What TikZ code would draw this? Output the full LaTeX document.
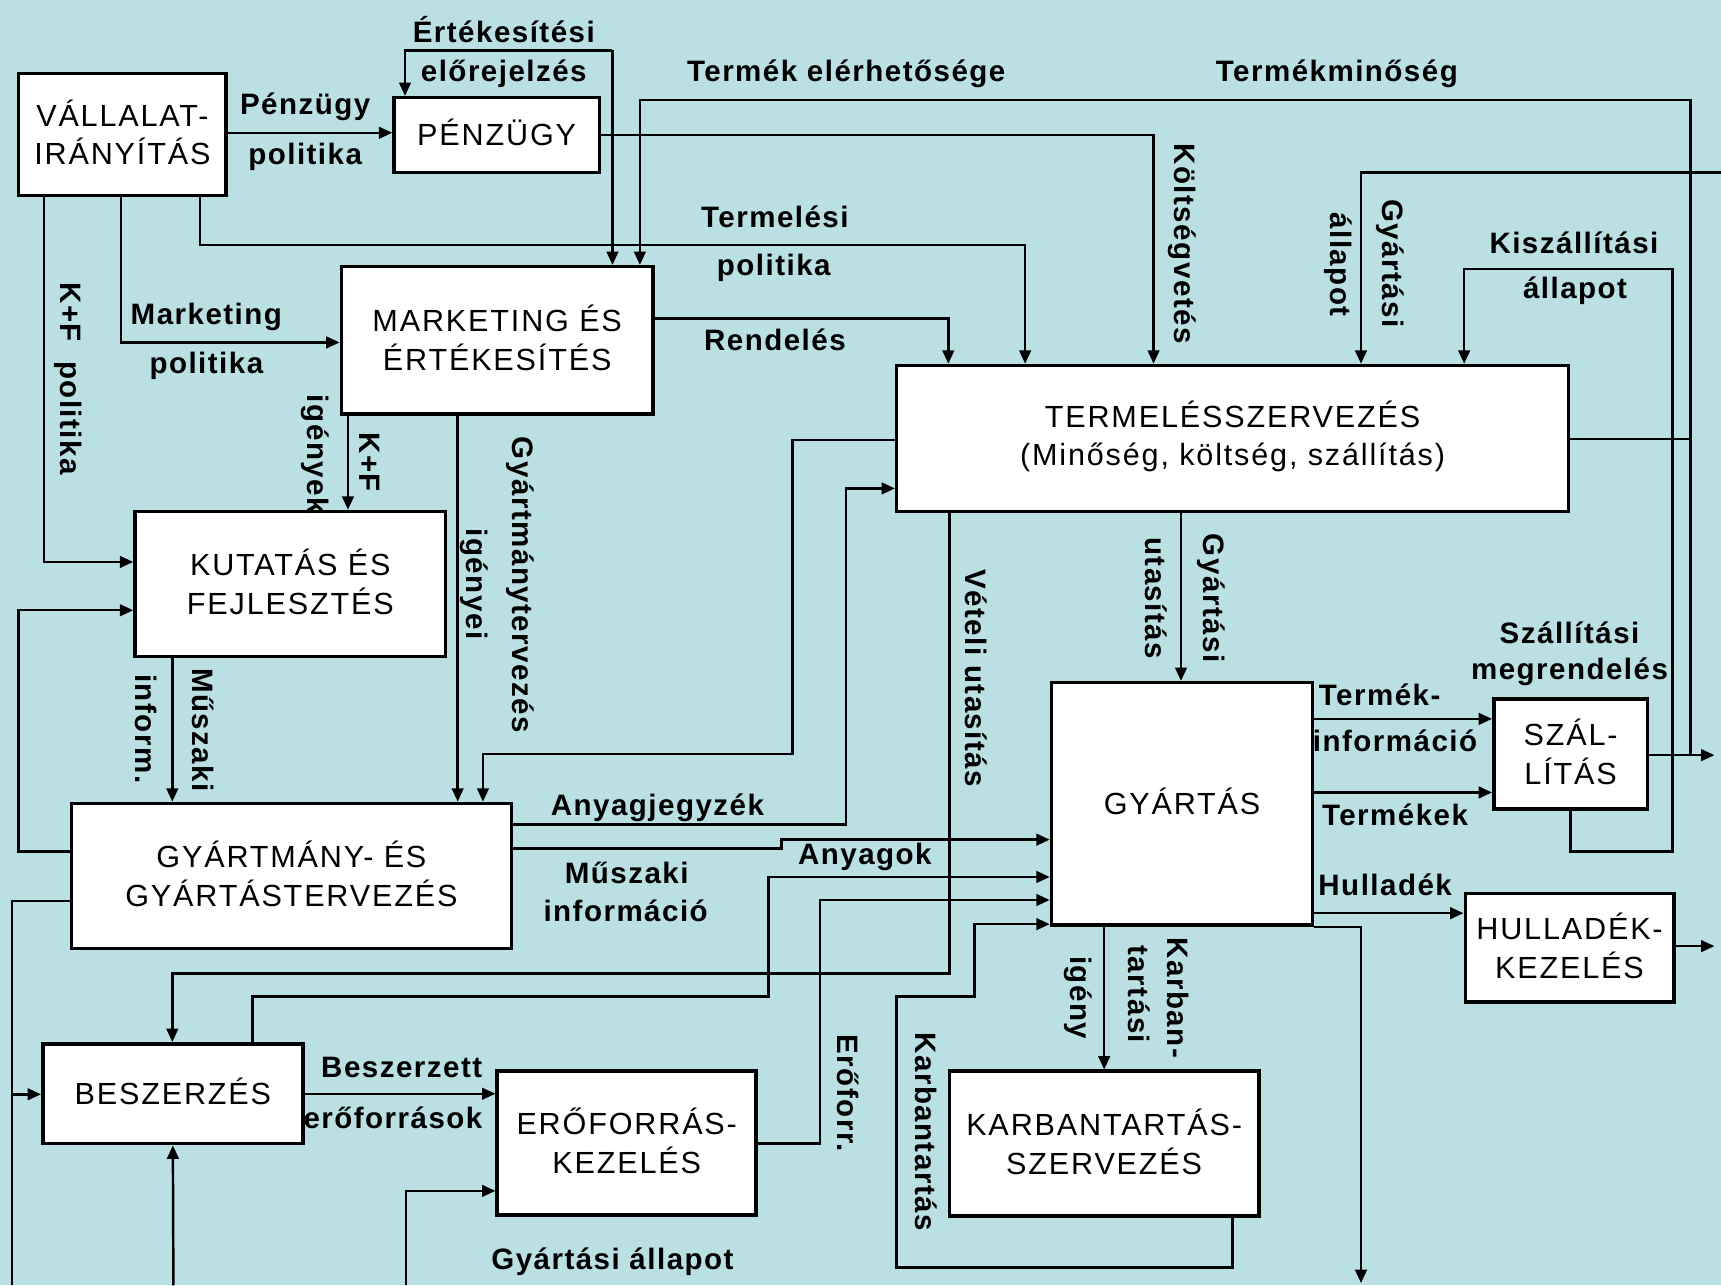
\documentclass[tikz,border=0pt]{standalone}
\usepackage{fontspec}
\setmainfont{Liberation Sans}
\newfontfamily\boxfont[LetterSpace=6]{Liberation Sans}
\newfontfamily\lblfont[LetterSpace=5]{Liberation Sans}
\usetikzlibrary{arrows.meta,fit}
\definecolor{bgteal}{RGB}{186,224,227}
\begin{document}
\begin{tikzpicture}[x=0.10976mm,y=-0.10976mm,
  blk/.style={draw,line width=1pt,fill=white,inner sep=0pt},
  btxt/.style={inner sep=0pt,align=center,yshift=0.6pt,
    font=\boxfont\fontsize{8.7}{11}\selectfont},
  lbl/.style={inner sep=0pt,font=\lblfont\bfseries\fontsize{8.4}{10}\selectfont},
  vlbl/.style={lbl,rotate=-90},
  flow/.style={line width=0.7pt,-{Triangle[length=3.8pt,width=3.3pt]}},
  wire/.style={line width=0.7pt}]

% background
\fill[bgteal] (0,0) rectangle (1568,1171);
\useasboundingbox (0,0) rectangle (1568,1171);

% blocks, each with its caption set in the middle
\node[blk,fit={(17,67)(206,178)},label={[btxt]center:{VÁLLALAT-\\IRÁNYÍTÁS}}] (vall) {};
\node[blk,fit={(359,89)(546,157)},label={[btxt]center:{PÉNZÜGY}}] (penz) {};
\node[blk,fit={(311,243)(595,377)},label={[btxt]center:{MARKETING ÉS\\ÉRTÉKESÍTÉS}}] (mark) {};
\node[blk,fit={(817,333)(1429,466)},label={[btxt]center:{TERMELÉSSZERVEZÉS\\(Minőség, költség, szállítás)}}] (term) {};
\node[blk,fit={(123,466)(406,598)},label={[btxt]center:{KUTATÁS ÉS\\FEJLESZTÉS}}] (kut) {};
\node[blk,fit={(65,732)(466,864)},label={[btxt]center:{GYÁRTMÁNY- ÉS\\GYÁRTÁSTERVEZÉS}}] (gyt) {};
\node[blk,fit={(958,622)(1196,843)},label={[btxt]center:{GYÁRTÁS}}] (gy) {};
\node[blk,fit={(1361,637)(1501,737)},label={[btxt]center:{SZÁL-\\LÍTÁS}}] (szal) {};
\node[blk,fit={(1335,814)(1525,913)},label={[btxt]center:{HULLADÉK-\\KEZELÉS}}] (hull) {};
\node[blk,fit={(39,951)(276,1042)},label={[btxt]center:{BESZERZÉS}}] (besz) {};
\node[blk,fit={(453,976)(689,1107)},label={[btxt]center:{ERŐFORRÁS-\\KEZELÉS}}] (ero) {};
\node[blk,fit={(865,976)(1147,1108)},label={[btxt]center:{KARBANTARTÁS-\\SZERVEZÉS}}] (karb) {};

% free ends at the picture edges
\coordinate (ek) at (558,46);
\coordinate (szalout) at (1562,688);
\coordinate (hullout) at (1562,862);
\coordinate (gyin) at (1568,157);
\coordinate (gyout) at (1240,1169);
\coordinate (leftout) at (11,1171);
\coordinate (bin1) at (158,1171);
\coordinate (bin2) at (370,1171);

% top connectors
\draw[flow] (vall.east |- 0,121) -- (penz.west |- 0,121);
\draw[flow] (ek) -| (369,0 |- penz.north);
\draw[flow] (ek) -- (558,0 |- mark.north);
\draw[flow] (szal.east |- szalout) -- (szalout);
\draw[flow] (szal.east |- szalout) -| (1540,91) -| (583,0 |- mark.north);
\draw[wire] (term.east |- 0,400) -- (1540,400);
\draw[flow] (szal.south) |- (1524,776) |- (1334,245) -- (1334,0 |- term.north);
\draw[flow] (gyin) -| (1240,0 |- term.north);
\draw[flow] (penz.east |- 0,123) -| (1051,0 |- term.north);
\draw[flow] (vall.south -| 182,0) |- (934,223) -- (934,0 |- term.north);
\draw[flow] (mark.east |- 0,290) -| (864,0 |- term.north);
\draw[flow] (vall.south -| 110,0) |- (mark.west |- 0,312);
\draw[flow] (vall.south -| 40,0) |- (kut.west |- 0,512);

% middle connectors
\draw[flow] (mark.south -| 317,0) -- (kut.north -| 317,0);
\draw[flow] (mark.south -| 417,0) -- (gyt.north -| 417,0);
\draw[flow] (kut.south -| 157,0) -- (gyt.north -| 157,0);
\draw[flow] (term.west |- 0,401) -| (722,687) -| (440,0 |- gyt.north);
\draw[flow] (gyt.east |- 0,751) -| (771,445) -- (term.west |- 0,445);
\draw[flow] (gyt.east |- 0,773) -| (712,765) -- (gy.west |- 0,765);
\draw[flow] (besz.north -| 230,0) |- (700,908) |- (gy.west |- 0,799);
\draw[flow] (ero.east |- 0,1042) -| (747,820) -- (gy.west |- 0,820);
\draw[flow] (karb.south -| 1123,0) |- (817,1155) |- (888,908) |- (gy.west |- 0,842);
\draw[flow] (term.south -| 865,0) |- (157,887) -- (besz.north -| 157,0);
\draw[flow] (term.south -| 1076,0) -- (gy.north -| 1076,0);
\draw[flow] (gy.south -| 1006,0) -- (karb.north -| 1006,0);

% outputs of production
\draw[flow] (gy.east |- 0,655) -- (szal.west |- 0,655);
\draw[flow] (gy.east |- 0,722) -- (szal.west |- 0,722);
\draw[flow] (gy.east |- 0,832) -- (hull.west |- 0,832);
\draw[flow] (hull.east |- hullout) -- (hullout);
\draw[flow] (gy.south east) -| (gyout);

% left and bottom connectors
\draw[flow] (gyt.west |- 0,776) -| (17,556) -- (kut.west |- 0,556);
\draw[wire] (gyt.west |- 0,821) -| (leftout);
\draw[flow] (leftout |- 0,997) -- (besz.west |- 0,997);
\draw[flow] (bin1) -- (besz.south);
\draw[flow] (besz.east) -- (ero.west |- besz.east);
\draw[flow] (bin2) |- (ero.west |- 0,1085);

% horizontal labels
\node[lbl] at (459,27) {Értékesítési};
\node[lbl] at (459,67) {előrejelzés};
\node[lbl] at (278,97) {Pénzügy};
\node[lbl] at (278,143) {politika};
\node[lbl] at (771,67) {Termék elérhetősége};
\node[lbl] at (1218,67) {Termékminőség};
\node[lbl] at (706,198) {Termelési};
\node[lbl] at (705,244) {politika};
\node[lbl] at (706,310) {Rendelés};
\node[lbl] at (188,289) {Marketing};
\node[lbl] at (188,333) {politika};
\node[lbl] at (1434,221) {Kiszállítási};
\node[lbl] at (1435,265) {állapot};
\node[lbl] at (1430,577) {Szállítási};
\node[lbl] at (1430,612) {megrendelés};
\node[lbl] at (1257,633) {Termék-};
\node[lbl] at (1271,675) {információ};
\node[lbl] at (1271,742) {Termékek};
\node[lbl] at (1262,806) {Hulladék};
\node[lbl] at (599,736) {Anyagjegyzék};
\node[lbl] at (571,795) {Műszaki};
\node[lbl] at (570,830) {információ};
\node[lbl] at (788,781) {Anyagok};
\node[lbl] at (366,973) {Beszerzett};
\node[lbl] at (358,1018) {erőforrások};
\node[lbl] at (558,1150) {Gyártási állapot};

% rotated labels
\node[vlbl] at (62,345) {K+F~~politika};
\node[vlbl] at (337,421) {K+F};
\node[vlbl] at (287,414) {igények};
\node[vlbl] at (474,533) {Gyártmánytervezés};
\node[vlbl] at (432,532) {igényei};
\node[vlbl] at (185,665) {Műszaki};
\node[vlbl] at (133,664) {inform.};
\node[vlbl] at (1077,222) {Költségvetés};
\node[vlbl] at (1267,240) {Gyártási};
\node[vlbl] at (1219,241) {állapot};
\node[vlbl] at (889,618) {Vételi utasítás};
\node[vlbl] at (1104,545) {Gyártási};
\node[vlbl] at (1053,545) {utasítás};
\node[vlbl] at (1073,909) {Karban-};
\node[vlbl] at (1038,906) {tartási};
\node[vlbl] at (982,909) {igény};
\node[vlbl] at (773,996) {Erőforr.};
\node[vlbl] at (844,1031) {Karbantartás};
\end{tikzpicture}
\end{document}
